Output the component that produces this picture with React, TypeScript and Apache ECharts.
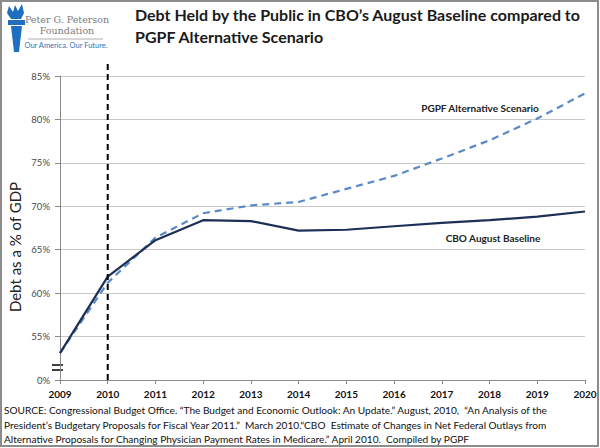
import React, { useEffect, useRef } from 'react';
import * as echarts from 'echarts';

const years = ['2009', '2010', '2011', '2012', '2013', '2014', '2015', '2016', '2017', '2018', '2019', '2020'];
const cboBaseline = [53.1, 61.9, 66.1, 68.4, 68.3, 67.2, 67.3, 67.7, 68.1, 68.4, 68.8, 69.4];
const pgpfAlternative = [53.1, 61.2, 66.4, 69.2, 70.1, 70.5, 72.0, 73.5, 75.5, 77.6, 80.1, 83.0];
const yMin = 50;
const yMax = 85;
const yStep = 5;
const brokenBaseLabel = '0%';
const projectionStartYear = '2010';

const titleLines = [
  'Debt Held by the Public in CBO\u2019s August Baseline compared to',
  'PGPF Alternative Scenario',
];
const sourceLines = [
  'SOURCE: Congressional Budget Office. \u201CThe Budget and Economic Outlook: An Update.\u201D August, 2010,  \u201CAn Analysis of the',
  'President\u2019s Budgetary Proposals for Fiscal Year 2011.\u201D  March 2010.\u201CCBO  Estimate of Changes in Net Federal Outlays from',
  'Alternative Proposals for Changing Physician Payment Rates in Medicare.\u201D April 2010.  Compiled by PGPF',
];

const FONT = 'Lato, "Open Sans", sans-serif';

export default function App() {
  const ref = useRef<HTMLDivElement>(null);
  useEffect(() => {
    if (!ref.current) return;
    const chart = echarts.init(ref.current, null, { renderer: 'svg' });
    const torchBlue = '#1E6FC0';
    chart.setOption({
      animation: false,
      backgroundColor: '#ffffff',
      title: {
        text: titleLines.join('\n'),
        left: 130,
        top: -2,
        textStyle: { fontFamily: FONT, fontSize: 16, fontWeight: 'bold', color: '#1a1a1a', lineHeight: 22 },
      },
      grid: { left: 60, right: 15, top: 76, bottom: 68, containLabel: false },
      xAxis: {
        type: 'category',
        data: years,
        boundaryGap: false,
        axisLine: { lineStyle: { color: '#8a8a8a', width: 1 } },
        axisTick: { show: true, length: 4, lineStyle: { color: '#8a8a8a' } },
        axisLabel: { fontFamily: FONT, fontSize: 10, fontWeight: 'bold', color: '#111', margin: 9 },
        splitLine: { show: false },
      },
      yAxis: {
        type: 'value',
        min: yMin,
        max: yMax,
        interval: yStep,
        axisLine: { show: true, lineStyle: { color: '#8a8a8a' } },
        axisTick: { show: true, length: 5, lineStyle: { color: '#8a8a8a' } },
        axisLabel: {
          fontFamily: FONT,
          fontSize: 9.5,
          color: '#4a4a4a',
          margin: 10,
          formatter: (v: number) => (v === yMin ? brokenBaseLabel : v + '%'),
        },
        splitLine: { show: true, lineStyle: { color: '#c8c8c8', width: 1 } },
      },
      series: [
        {
          name: 'PGPF Alternative Scenario',
          type: 'line',
          data: pgpfAlternative,
          symbol: 'none',
          lineStyle: { color: '#5A8AC6', width: 2.2, type: [7, 5] },
          z: 3,
        },
        {
          name: 'CBO August Baseline',
          type: 'line',
          data: cboBaseline,
          symbol: 'none',
          lineStyle: { color: '#1C2F57', width: 2.2 },
          z: 4,
        },
      ],
      graphic: [
        {
          type: 'rect',
          shape: { x: 1, y: 1, width: 597, height: 445 },
          style: { fill: 'none', stroke: '#8c8c8c', lineWidth: 2 },
          silent: true,
        },
        // logo torch
        {
          type: 'polygon',
          shape: { points: [[9, 6], [13, 12], [15, 5], [18, 11], [22, 4], [24, 13], [21, 19], [11, 19], [7, 13]] },
          style: { fill: torchBlue },
        },
        {
          type: 'rect',
          shape: { x: 8, y: 20, width: 17, height: 5 },
          style: { fill: torchBlue },
        },
        {
          type: 'polygon',
          shape: { points: [[11, 26], [22, 26], [19, 52], [14, 52]] },
          style: { fill: torchBlue },
        },
        {
          type: 'text',
          style: { text: 'Peter G. Peterson', x: 67, y: 19, align: 'center', verticalAlign: 'middle', font: '9.5px "DejaVu Serif", serif', fill: '#7a7a7a' },
        },
        {
          type: 'text',
          style: { text: 'Foundation', x: 67, y: 30, align: 'center', verticalAlign: 'middle', font: '9.5px "DejaVu Serif", serif', fill: '#7a7a7a' },
        },
        {
          type: 'line',
          shape: { x1: 28, y1: 39, x2: 103, y2: 39 },
          style: { stroke: '#9a9a9a', lineWidth: 0.8 },
        },
        {
          type: 'text',
          style: { text: 'Our America. Our Future.', x: 66, y: 45, align: 'center', verticalAlign: 'middle', font: '7.5px Lato, sans-serif', fill: '#2E75B6' },
        },
        // y axis title
        {
          type: 'text',
          x: 15,
          y: 247,
          rotation: Math.PI / 2,
          style: { text: 'Debt as a % of GDP', x: 0, y: 0, align: 'center', verticalAlign: 'middle', font: '15px Lato, sans-serif', fill: '#222' },
        },
        // axis break marker
        {
          type: 'line',
          shape: { x1: 52, y1: 365, x2: 63, y2: 365 },
          style: { stroke: '#000', lineWidth: 1.5 },
        },
        {
          type: 'line',
          shape: { x1: 52, y1: 370, x2: 63, y2: 370 },
          style: { stroke: '#000', lineWidth: 1.5 },
        },
        // series labels
        {
          type: 'text',
          style: { text: 'PGPF Alternative Scenario', x: 480, y: 108, align: 'center', verticalAlign: 'middle', font: 'bold 10px Lato, sans-serif', fill: '#222' },
        },
        {
          type: 'text',
          style: { text: 'CBO August Baseline', x: 493, y: 238, align: 'center', verticalAlign: 'middle', font: 'bold 10px Lato, sans-serif', fill: '#222' },
        },
        // source
        ...sourceLines.map((t, i) => ({
          type: 'text',
          style: { text: t, x: 4, y: 410 + i * 14.5, verticalAlign: 'middle', font: '10.1px Lato, sans-serif', fill: '#111' },
        })),
      ],
    });
    // dashed projection-start marker through the 2010 category, extending above the plot
    const px = chart.convertToPixel({ xAxisIndex: 0 }, projectionStartYear) as number;
    const yBottom = chart.convertToPixel({ yAxisIndex: 0 }, yMin) as number;
    const yTop = (chart.convertToPixel({ yAxisIndex: 0 }, yMax) as number) - 12;
    chart.setOption({
      graphic: [
        {
          id: 'projection-start',
          type: 'line',
          z: 10,
          shape: { x1: px, y1: yTop, x2: px, y2: yBottom },
          style: { stroke: '#000', lineWidth: 2, lineDash: [6, 4] },
          silent: true,
        },
      ],
    });
    return () => chart.dispose();
  }, []);
  return <div ref={ref} style={{ position: 'fixed', left: 0, top: 0, width: 600, height: 448 }} />;
}
